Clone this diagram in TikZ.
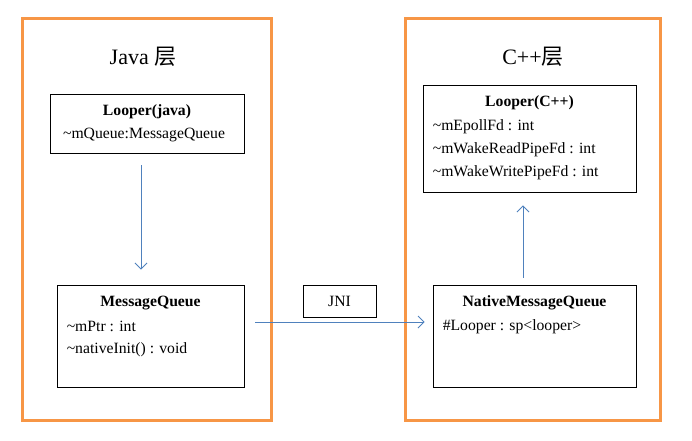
\documentclass[tikz,border=0pt]{standalone}
\usepackage{fontspec}
\setmainfont{Liberation Serif}
\newfontfamily\cjkfont{Noto Sans CJK SC}
\usepackage{xcolor}
\usetikzlibrary{positioning, arrows.meta}
\definecolor{layerorange}{HTML}{F79646}
\definecolor{flowblue}{HTML}{4F81BD}

\begin{document}
\begin{tikzpicture}[
    x=1pt, y=-1pt,
    font=\fontsize{15.7}{18}\selectfont,
    % orange layer frames
    layerbox/.style={
        rectangle,
        draw=layerorange,
        line width=3pt,
        minimum width=#1,
        minimum height=402pt,
        inner sep=0pt
    },
    % class boxes
    classbox/.style={
        rectangle,
        draw=black,
        line width=0.9pt,
        inner sep=0pt
    },
    layertitle/.style={font=\fontsize{22}{24}\selectfont, inner sep=0pt},
    classtitle/.style={font=\fontsize{15.7}{18}\selectfont\bfseries, inner sep=0pt},
    rowtext/.style={anchor=west, inner sep=0pt},
    flow/.style={-{Straight Barb[length=6pt, width=12pt]}, draw=flowblue, line width=0.8pt}
]
    \useasboundingbox (0,0) rectangle (692,440);

    % Layers
    \node[layerbox=249pt] (javalayer) at (146.5,219) {};
    \node[layerbox=255pt] (cpplayer) at (532.5,219) {};
    \node[layertitle] (javatitle) at (143,57) {Java {\cjkfont 层}};
    \node[layertitle] (cpptitle) at (533,57) {C++{\cjkfont 层}};

    % Java side
    \node[classbox, minimum width=194pt, minimum height=59pt] (looperjava) at (147,123.5) {};
    \node[classtitle] at ([yshift=-18pt]looperjava.north) {Looper(java)};
    \node[inner sep=0pt] at ([xshift=-3pt, yshift=-41pt]looperjava.north) {\textasciitilde mQueue:MessageQueue};

    \node[classbox, minimum width=187pt, minimum height=102pt] (msgqueue) at (150.5,336) {};
    \node[classtitle] at ([yshift=-18pt]msgqueue.north) {MessageQueue};
    \node[rowtext] at ([xshift=10pt, yshift=-42pt]msgqueue.north west) {\textasciitilde mPtr : int};
    \node[rowtext] at ([xshift=10pt, yshift=-65pt]msgqueue.north west) {\textasciitilde nativeInit() : void};

    % JNI
    \node[classbox, minimum width=73pt, minimum height=32pt] (jni) at (339.5,301) {JNI};

    % C++ side
    \node[classbox, minimum width=213pt, minimum height=107pt] (loopercpp) at (529.5,138.5) {};
    \node[classtitle] at ([yshift=-18pt]loopercpp.north) {Looper(C++)};
    \node[rowtext] at ([xshift=10pt, yshift=-42pt]loopercpp.north west) {\textasciitilde mEpollFd : int};
    \node[rowtext] at ([xshift=10pt, yshift=-65pt]loopercpp.north west) {\textasciitilde mWakeReadPipeFd : int};
    \node[rowtext] at ([xshift=10pt, yshift=-88pt]loopercpp.north west) {\textasciitilde mWakeWritePipeFd : int};

    \node[classbox, minimum width=203pt, minimum height=102pt] (nativequeue) at (534.5,336) {};
    \node[classtitle] at ([yshift=-18pt]nativequeue.north) {NativeMessageQueue};
    \node[rowtext] at ([xshift=10pt, yshift=-42pt]nativequeue.north west) {\#Looper : sp<looper>};

    % Edges
    \draw[flow, shorten <=12pt, shorten >=15pt] ([xshift=-6pt]looperjava.south) -- ([xshift=-9.5pt]msgqueue.north);
    \draw[flow, shorten <=11pt, shorten >=8pt] ([yshift=14pt]msgqueue.east) -- ([yshift=14pt]nativequeue.west);
    \draw[flow, shorten <=7pt, shorten >=13pt] ([xshift=-11.5pt]nativequeue.north) -- ([xshift=-6.5pt]loopercpp.south);

\end{tikzpicture}
\end{document}
